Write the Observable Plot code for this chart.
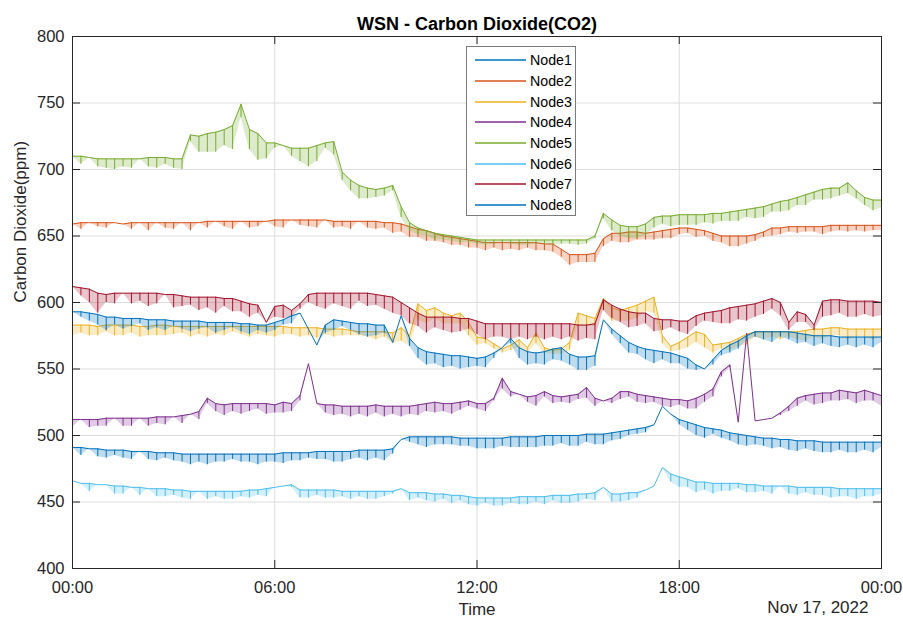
<!DOCTYPE html>
<html><head><meta charset="utf-8">
<script src="https://cdn.jsdelivr.net/npm/d3@7"></script>
<script src="https://cdn.jsdelivr.net/npm/@observablehq/plot@0.6"></script>
<style>
body{margin:0;background:#fff;}
#wrap{position:relative;width:903px;height:618px;font-family:"Liberation Sans",Arial,sans-serif;}
#legend{position:absolute;left:466px;top:46px;width:110px;height:170px;border:1px solid #7a7a7a;background:#fff;box-sizing:border-box;padding-top:3px;}
.lg{height:20.7px;display:flex;align-items:center;font-size:14.2px;color:#000;}
.lg svg{margin-left:8px;margin-right:4px;}
</style></head>
<body><div id="wrap"><div id="legend"></div></div>
<script>
const chartTitle = "WSN - Carbon Dioxide(CO2)";
const xLabel = "Time";
const yLabel = "Carbon Dioxide(ppm)";
const dateLabel = "Nov 17, 2022";
const seriesNames = ["Node1","Node2","Node3","Node4","Node5","Node6","Node7","Node8"];
const seriesColors = ["#0072BD","#D95319","#EDB120","#7E2F8E","#77AC30","#4DBEEE","#A2142F","#0072BD"];
const xTicks = [0, 6, 12, 18, 24];
const xTickLabels = ["00:00","06:00","12:00","18:00","00:00"];
const yTicks = [400,450,500,550,600,650,700,750,800];
const stepHours = 0.25; // samples read every 15 minutes

// top line (ppm) and depth of downward spikes (ppm), read every 15 min
const node1Top = [491,491,490,490,489,489,489,488,488,488,487,487,487,486,486,486,486,486,486,486,486,486,486,486,486,487,487,487,487,488,488,488,488,488,489,489,489,489,490,497,499,499,499,499,499,499,498,498,498,498,498,498,499,499,499,499,500,500,500,500,500,501,501,501,502,503,504,505,506,508,522,516,512,510,508,506,505,504,502,501,500,499,498,498,497,497,496,496,496,495,495,495,495,495,495,495,495];
const node1Dip = [0,6,0,6,6,4,6,6,0,6,6,4,6,6,8,6,8,6,6,4,6,6,8,6,6,8,6,6,4,6,6,8,8,6,6,8,6,8,4,0,4,6,8,6,6,6,6,6,8,8,8,6,8,8,8,8,8,8,6,8,8,6,8,8,6,6,4,4,4,0,0,0,4,6,8,8,4,6,6,8,8,6,6,8,6,8,8,6,8,8,8,6,8,8,6,8,4];
const node2Top = [659,660,660,660,660,660,659,660,660,660,660,660,660,660,660,660,661,661,661,661,661,661,661,661,662,662,662,662,662,662,662,661,661,661,661,661,661,660,660,659,657,655,654,652,650,649,648,647,646,645,645,645,645,645,645,645,644,644,640,636,636,636,637,648,652,652,653,653,652,653,654,655,656,656,655,654,652,650,650,650,650,651,653,656,656,657,657,657,657,657,658,658,658,658,658,658,658];
const node2Dip = [0,5,0,3,4,0,0,5,0,6,0,4,5,0,6,0,5,0,4,6,0,5,4,0,5,6,0,4,5,6,0,5,4,6,0,5,6,4,8,6,8,6,8,6,5,6,5,6,5,6,4,6,5,6,4,6,5,6,6,8,6,6,7,6,6,7,8,6,5,6,6,7,5,4,6,4,6,5,8,8,6,5,4,6,5,4,5,4,4,6,5,4,5,4,5,4,4];
const node3Top = [583,583,583,582,583,583,583,583,582,582,583,583,582,582,582,582,582,582,582,582,582,582,582,582,582,582,581,581,581,581,580,580,580,579,578,578,578,578,577,581,575,599,594,596,592,590,592,585,574,573,569,565,568,572,566,577,566,564,565,570,592,590,588,603,596,594,596,598,601,604,575,567,570,574,578,576,568,569,570,573,576,578,578,578,578,578,578,579,580,580,581,581,580,580,580,580,580];
const node3Dip = [8,6,8,7,5,8,8,6,8,7,8,8,6,5,8,6,8,6,7,4,6,8,6,7,8,6,5,7,6,8,4,6,5,4,3,4,6,4,8,10,8,12,10,8,8,6,8,10,6,4,4,3,4,6,4,8,4,3,4,6,10,8,6,8,10,8,10,10,8,12,6,4,6,8,8,10,6,4,6,6,8,4,6,4,6,4,6,8,6,8,6,6,8,6,6,8,6];
const node4Top = [512,512,512,512,513,513,513,513,513,513,514,514,514,515,516,518,528,524,523,524,524,524,524,524,523,525,524,530,554,524,523,523,522,522,522,522,523,522,522,522,522,523,524,525,524,524,525,526,524,524,528,543,533,531,529,530,533,530,529,530,531,536,528,526,528,533,533,531,530,529,528,527,527,526,528,531,535,548,553,510,577,511,512,513,517,522,528,530,531,532,532,534,533,532,534,532,530];
const node4Dip = [6,0,6,5,6,0,6,6,0,6,5,6,0,6,0,6,4,6,8,6,8,6,4,8,6,8,6,4,0,0,6,8,6,8,6,8,6,8,6,8,6,8,6,8,6,8,6,4,4,6,2,8,4,0,4,8,4,6,4,6,4,8,6,0,4,6,4,6,6,4,6,6,4,6,8,6,6,4,2,0,0,0,0,0,2,4,6,4,8,8,6,8,6,8,8,6,8,6,6].slice(0,97);
const node5Top = [710,710,709,708,708,708,708,708,708,709,709,709,708,708,726,725,727,728,730,733,749,730,727,720,720,718,716,716,716,718,720,721,698,692,688,686,685,686,688,672,660,656,654,652,651,650,649,648,647,647,647,647,647,647,647,647,647,647,647,647,647,647,650,667,662,658,657,657,659,664,665,665,666,666,666,666,667,667,668,669,670,671,672,674,676,677,679,681,683,685,686,686,690,684,679,677,677];
const node5Dip = [0,6,0,6,7,8,6,7,0,7,8,5,7,8,5,12,14,15,12,18,10,15,20,12,4,0,6,10,14,12,4,10,6,8,10,8,6,6,4,8,6,5,4,5,4,4,4,3,3,4,3,2,3,4,4,3,3,4,3,3,4,3,2,4,8,8,9,9,9,8,6,8,8,8,8,6,8,6,7,8,6,8,8,6,8,8,6,8,6,8,8,6,8,6,6,8,6];
const node6Top = [466,464,464,463,463,462,462,461,461,460,460,460,459,459,458,458,458,458,458,458,458,459,459,460,461,462,463,459,459,459,459,459,458,458,458,458,458,458,458,460,457,457,457,456,456,455,455,454,453,453,453,453,453,454,454,454,454,455,455,455,456,456,457,461,456,456,457,457,459,462,476,471,469,467,465,465,464,464,464,464,463,463,462,462,462,462,461,461,461,461,461,460,460,460,460,460,460];
const node6Dip = [0,0,6,0,0,6,6,0,6,0,6,6,4,6,6,0,6,4,6,6,4,6,4,6,0,0,2,6,6,4,6,6,4,6,4,6,6,4,2,0,6,4,6,6,4,6,4,6,6,4,6,6,4,6,6,4,6,4,6,6,6,4,6,0,6,6,6,4,0,0,0,6,8,6,8,6,8,6,6,4,6,6,4,6,0,6,6,4,6,6,8,6,6,8,6,6,4];
const node7Top = [612,611,610,607,606,607,607,607,607,607,607,606,606,605,604,604,604,604,603,603,601,599,598,585,597,598,594,599,606,607,607,607,607,607,607,607,606,605,604,600,596,592,589,589,589,589,588,588,586,584,584,584,584,584,584,584,584,584,584,584,583,583,584,602,598,595,593,592,592,588,587,587,586,586,590,592,593,594,596,597,598,599,601,603,600,585,593,591,583,601,602,602,601,601,601,601,600];
const node7Dip = [0,6,10,15,6,8,0,8,6,10,8,0,10,8,6,10,8,12,6,10,8,10,6,0,8,10,5,4,6,10,12,8,10,12,6,10,8,10,12,10,12,10,12,8,10,12,10,8,10,12,10,10,12,10,12,10,12,10,12,10,12,10,12,8,10,10,12,10,8,10,8,6,8,10,8,6,8,10,12,10,12,10,10,8,10,6,8,6,4,12,12,10,12,12,10,12,10];
const node8Top = [593,593,592,591,589,589,588,588,588,587,587,587,586,586,586,586,585,585,585,585,584,584,583,583,585,587,590,592,580,568,583,587,586,585,584,584,583,583,570,590,573,566,563,562,561,560,560,559,558,559,562,566,573,566,563,562,563,565,566,561,559,559,560,587,580,575,570,567,565,564,563,562,560,558,553,550,557,564,568,571,575,578,578,578,578,578,577,576,575,575,575,574,574,574,574,574,574];
const node8Dip = [0,4,6,8,10,6,8,6,4,8,6,8,4,6,8,6,4,8,6,4,6,8,4,6,6,4,6,0,0,0,6,8,4,6,8,10,8,6,0,0,6,8,10,8,10,8,10,8,6,8,4,0,4,8,10,8,10,8,10,8,10,10,8,0,4,6,8,6,8,10,6,8,6,8,4,0,4,4,6,6,4,4,6,8,4,6,8,6,8,6,8,8,6,8,6,8,4];

const tops = [node1Top,node2Top,node3Top,node4Top,node5Top,node6Top,node7Top,node8Top];
const dips = [node1Dip,node2Dip,node3Dip,node4Dip,node5Dip,node6Dip,node7Dip,node8Dip];

const W = 903, H = 618, mL = 72, mR = 22, mT = 36, mB = 50;
const fw = W - mL - mR, fh = H - mT - mB, tick = 8;

const perSeries = seriesNames.map((name, s) => tops[s].map((v, i) => ({
  node: name, hour: i * stepHours, top: v, low: v - (dips[s][i] || 0)
})));

const dataMarks = perSeries.flatMap(rows => [
  Plot.areaY(rows, {x: "hour", y1: "low", y2: "top", fill: "node", fillOpacity: 0.25}),
  Plot.ruleX(rows.filter(d => d.low < d.top), {x: "hour", y1: "low", y2: "top", stroke: "node", strokeWidth: 1}),
  Plot.line(rows, {x: "hour", y: "top", stroke: "node", strokeWidth: 1})
]);

const gridColor = "#dedede";
const ink = "#262626";
const chart = Plot.plot({
  width: W, height: H,
  marginLeft: mL, marginRight: mR, marginTop: mT, marginBottom: mB,
  style: {fontFamily: "'Liberation Sans', Arial, sans-serif", fontSize: "16.5px", color: ink, background: "transparent"},
  x: {domain: [0, 24]},
  y: {domain: [400, 800]},
  color: {domain: seriesNames, range: seriesColors},
  marks: [
    Plot.ruleX(xTicks, {stroke: gridColor}),
    Plot.ruleY(yTicks, {stroke: gridColor}),
    ...dataMarks,
    Plot.frame({stroke: ink}),
    Plot.ruleY(yTicks, {stroke: ink, insetRight: fw - tick}),
    Plot.ruleY(yTicks, {stroke: ink, insetLeft: fw - tick}),
    Plot.ruleX(xTicks, {stroke: ink, insetTop: fh - tick}),
    Plot.ruleX(xTicks, {stroke: ink, insetBottom: fh - tick}),
    Plot.axisX(xTicks, {tickSize: 0, tickPadding: 13, label: null, fill: ink,
      tickFormat: d => xTickLabels[xTicks.indexOf(d)]}),
    Plot.axisY(yTicks, {tickSize: 0, tickPadding: 8, label: null, fill: ink}),
    Plot.text([xLabel], {frameAnchor: "bottom", dy: 46, fontSize: 17, fill: ink}),
    Plot.text([yLabel], {frameAnchor: "left", rotate: -90, dx: -52, fontSize: 17, fill: ink}),
    Plot.text([dateLabel], {frameAnchor: "bottom-right", textAnchor: "end", dx: -13, dy: 44, fontSize: 17, fill: ink}),
    Plot.text([chartTitle], {frameAnchor: "top", dy: -19, fontSize: 18, fontWeight: "bold", fill: "#000"})
  ]
});
const wrap = document.getElementById("wrap");
wrap.insertBefore(chart, wrap.firstChild);
chart.style.position = "absolute"; chart.style.left = "0"; chart.style.top = "0";

const legend = document.getElementById("legend");
seriesNames.forEach((name, i) => {
  const row = document.createElement("div");
  row.className = "lg";
  row.innerHTML = `<svg width="51" height="4"><line x1="0" x2="51" y1="2" y2="2" stroke="${seriesColors[i]}" stroke-width="1.5"/></svg><span>${name}</span>`;
  legend.appendChild(row);
});
</script></body></html>
